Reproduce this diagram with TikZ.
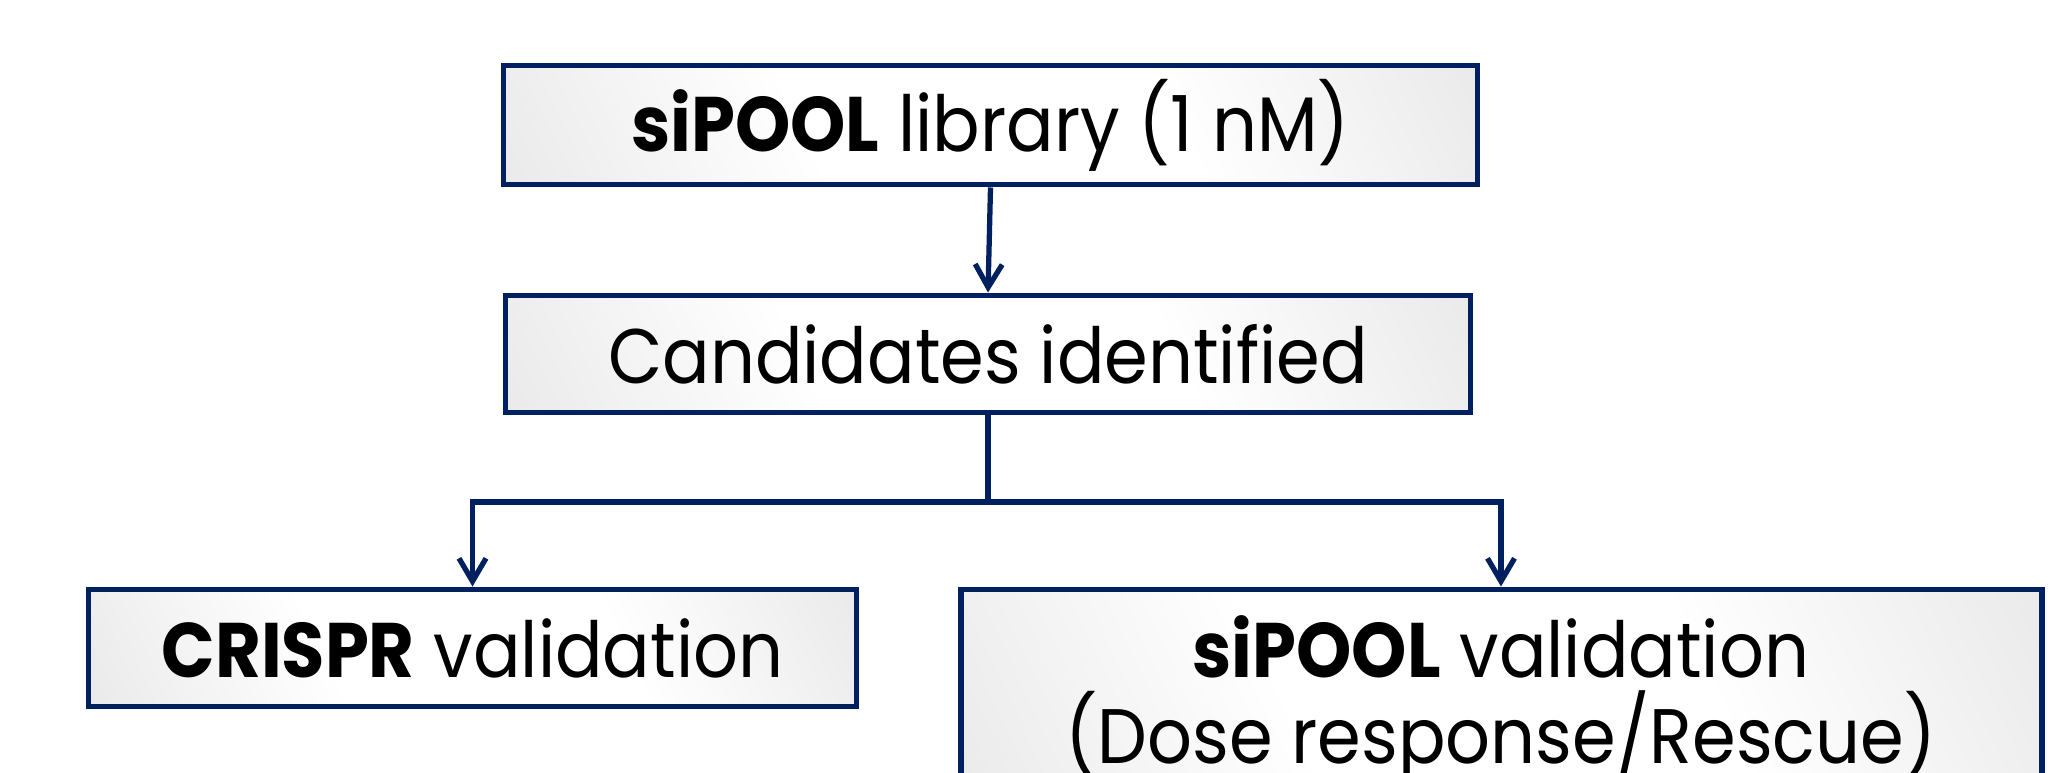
\documentclass[tikz,border=0pt]{standalone}
\usepackage{fontspec}
\setmainfont{Poppins}[FakeStretch=0.91]
\usetikzlibrary{arrows.meta}
\definecolor{navy}{HTML}{002060}
\definecolor{boxgray}{HTML}{D9D9D9}
\pgfdeclareverticalshading{boxshade}{100bp}{color(0bp)=(boxgray); color(38bp)=(white); color(62bp)=(white); color(100bp)=(boxgray)}
\tikzset{
  flowbox/.style={draw=navy, line width=1.7pt, rectangle, inner sep=0pt,
    shading=boxshade, shading angle=-65,
    font=\fontsize{22}{24.5}\selectfont, align=center, text=black},
  link/.style={draw=navy, line width=1.5pt},
  tip/.style={-{Straight Barb[length=2.3mm, width=2.7mm, line width=1.5pt]}}
}
\begin{document}
\begin{tikzpicture}[x=0.1mm, y=-0.1mm]
\clip (0,0) rectangle (2053,773);
\fill[white] (0,0) rectangle (2053,773);
\node[flowbox, minimum width=97.4mm, minimum height=11.9mm] (b1) at (990.5,125) {\textbf{siPOOL} library (1 nM)};
\node[flowbox, minimum width=96.5mm, minimum height=11.7mm] (b2) at (988,354) {Candidates identified};
\node[flowbox, minimum width=76.8mm, minimum height=11.7mm] (b3) at (472.5,648) {\textbf{CRISPR} validation};
\node[flowbox, minimum width=108.1mm, minimum height=22.1mm] (b4) at (1501,700) {\textbf{siPOOL} validation\\(Dose response/Rescue)};
\coordinate (j) at (b2.south |- 0,502);
\draw[link, tip] (b1.south) -- (b2.north);
\draw[link] (b2.south) -- (j);
\draw[link, tip] (j) -| (b3.north);
\draw[link, tip] (j) -| (b4.north);
\end{tikzpicture}
\end{document}
